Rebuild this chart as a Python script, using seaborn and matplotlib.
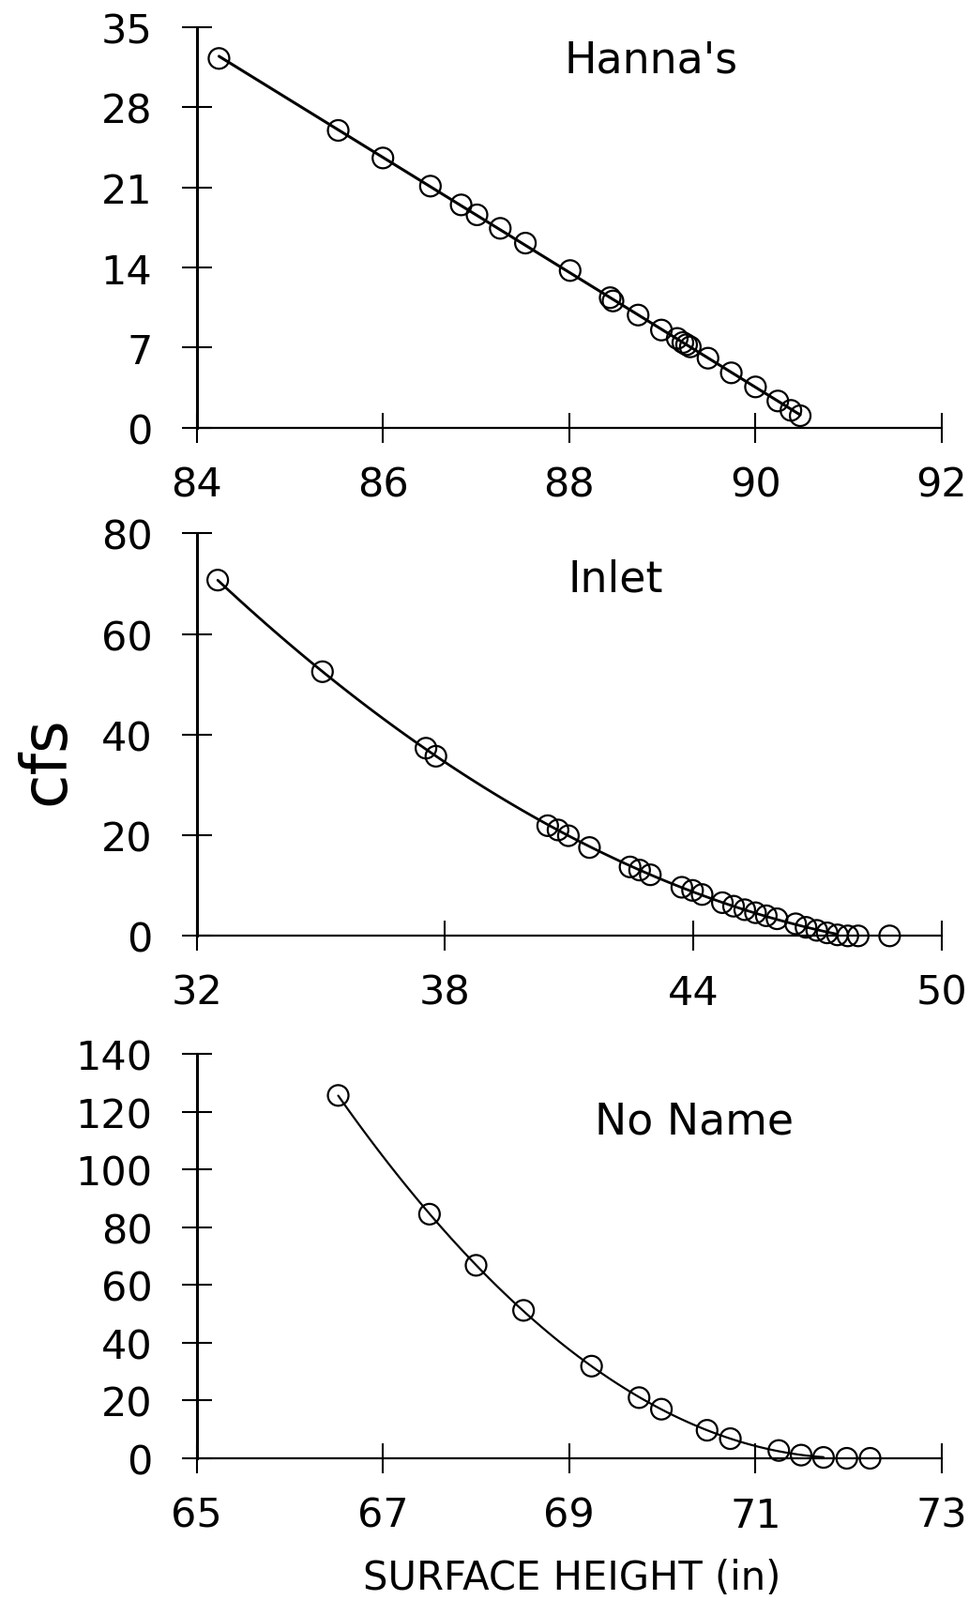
import numpy as np
import pandas as pd
import matplotlib
matplotlib.use("Agg")
import matplotlib.pyplot as plt
import seaborn as sns

# ---------------- data ----------------
hanna_h = [84.24, 85.52, 86.00, 86.51, 86.84, 87.01, 87.26, 87.53, 88.01, 88.44,
           88.47, 88.74, 88.99, 89.16, 89.22, 89.26, 89.30, 89.49, 89.74, 90.00,
           90.24, 90.38, 90.48]
hanna_q = [32.27, 25.98, 23.57, 21.11, 19.47, 18.60, 17.42, 16.13, 13.73, 11.36,
           11.07, 9.84, 8.53, 7.80, 7.44, 7.25, 7.06, 6.07, 4.79, 3.56,
           2.33, 1.51, 1.04]

inlet_h = [32.51, 35.04, 37.54, 37.78, 40.48, 40.73, 40.98, 41.49, 42.47, 42.70,
           42.96, 43.72, 43.98, 44.21, 44.70, 44.97, 45.24, 45.50, 45.76, 46.02,
           46.47, 46.72, 46.98, 47.23, 47.48, 47.73, 47.98, 48.74]
inlet_q = [70.7, 52.5, 37.3, 35.7, 21.9, 21.05, 19.9, 17.56, 13.7, 13.08,
           12.14, 9.66, 9.04, 8.22, 6.6, 5.9, 5.2, 4.6, 4.0, 3.4,
           2.4, 1.7, 1.1, 0.6, 0.2, 0.0, 0.0, 0.0]

noname_h = [66.52, 67.50, 68.00, 68.51, 69.24, 69.75, 69.99, 70.48, 70.73, 71.25,
            71.49, 71.73, 71.98, 72.23]
noname_q = [125.6, 84.5, 66.8, 51.2, 31.9, 21.0, 17.0, 9.7, 6.8, 2.7,
            1.1, 0.3, 0.0, 0.0]

panel_titles = ["Hanna's", "Inlet", "No Name"]
hanna_xticks = [84, 86, 88, 90, 92]
hanna_yticks = [0, 7, 14, 21, 28, 35]
inlet_xticks = [32, 38, 44, 50]
inlet_yticks = [0, 20, 40, 60, 80]
noname_xticks = [65, 67, 69, 71, 73]
noname_yticks = [0, 20, 40, 60, 80, 100, 120, 140]
y_label = "cfs"
x_label = "SURFACE HEIGHT (in)"

# ---------------- styling ----------------
sns.set_theme(style="ticks")
plt.rcParams["font.family"] = ["DejaVu Sans"]

W, H = 1033, 1706
fig = plt.figure(figsize=(W / 100, H / 100), dpi=100)

left = 209.6 / W
width = 794.4 / W
panels = [
    dict(h=hanna_h, q=hanna_q, xt=hanna_xticks, yt=hanna_yticks, order=1,
         top=30.0, bottom=456.7, title=panel_titles[0], tpos=(0.610, 0.918), lw=2.2),
    dict(h=inlet_h, q=inlet_q, xt=inlet_xticks, yt=inlet_yticks, order=2,
         top=569.3, bottom=998.3, title=panel_titles[1], tpos=(0.562, 0.886), lw=2.0),
    dict(h=noname_h, q=noname_q, xt=noname_xticks, yt=noname_yticks, order=2,
         top=1124.0, bottom=1555.0, title=panel_titles[2], tpos=(0.668, 0.834), lw=1.6),
]

for p in panels:
    ax = fig.add_axes([left, 1 - p["bottom"] / H, width, (p["bottom"] - p["top"]) / H])
    df = pd.DataFrame({"h": p["h"], "q": p["q"]})
    fit_df = df[df["q"] > 0]
    sns.regplot(data=fit_df, x="h", y="q", order=p["order"], ci=None, scatter=False,
                truncate=True, ax=ax, line_kws=dict(color="black", lw=p["lw"]))
    sns.scatterplot(data=df, x="h", y="q", ax=ax, marker="o", s=250,
                    facecolor="none", edgecolor="black", linewidth=1.6,
                    clip_on=False, zorder=5)
    ax.set_xlim(p["xt"][0], p["xt"][-1])
    ax.set_ylim(p["yt"][0], p["yt"][-1])
    ax.set_xticks(p["xt"])
    ax.set_yticks(p["yt"])
    ax.set_xlabel("")
    ax.set_ylabel("")
    for s in ["top", "right"]:
        ax.spines[s].set_visible(False)
    ax.spines["left"].set_linewidth(2.2)
    ax.spines["bottom"].set_linewidth(1.6)
    ax.spines["left"].set_color("black")
    ax.spines["bottom"].set_color("black")
    ax.tick_params(axis="both", direction="inout", length=23, width=1.5,
                   colors="black", labelsize=31)
    ax.tick_params(axis="y", pad=22.5)
    ax.tick_params(axis="x", pad=17)
    ax.set_facecolor("white")
    ax.text(p["tpos"][0], p["tpos"][1], p["title"], transform=ax.transAxes,
            ha="center", va="center", fontsize=33, color="black")

fig.text(49 / W, 1 - 811 / H, y_label, rotation=90, ha="center", va="center",
         fontsize=48, color="black")
fig.text(610 / W, 1 - 1682 / H, x_label, ha="center", va="center",
         fontsize=30, color="black")

fig.savefig("out.png", dpi=100, facecolor="white")
